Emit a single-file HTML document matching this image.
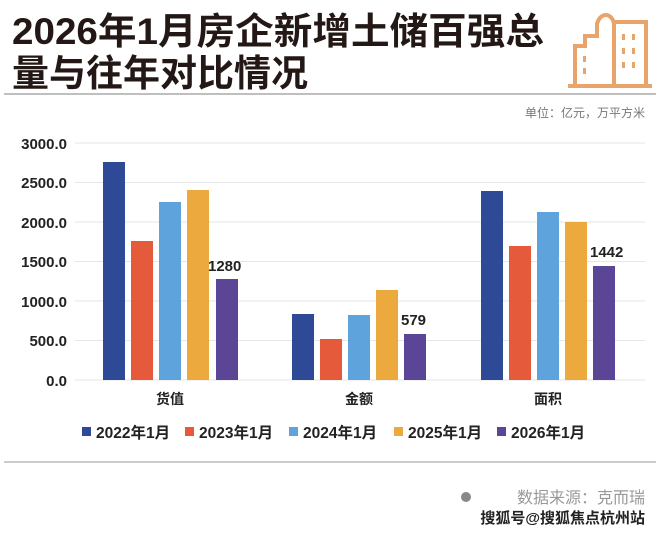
<!DOCTYPE html>
<html><head><meta charset="utf-8"><style>
body{margin:0;background:#fff;}
svg{display:block;font-family:"Liberation Sans","Noto Sans CJK SC",sans-serif;}
</style></head><body>
<svg width="660" height="533" viewBox="0 0 660 533">
<rect width="660" height="533" fill="#fff"/>
<text x="12" y="44" font-size="37" font-weight="bold" fill="#231815" textLength="532" lengthAdjust="spacingAndGlyphs">2026年1月房企新增土储百强总</text>
<text x="12" y="86" font-size="37" font-weight="bold" fill="#231815">量与往年对比情况</text>
<g fill="none" stroke="#e8a46a" stroke-width="4">
<path d="M575 86 V46 H585 V36 H597 V24 C600 12 612 12 614 24 V44"/>
<rect x="614" y="22" width="32" height="64"/>
<line x1="568" y1="86" x2="652" y2="86"/>
</g>
<g fill="#e8a46a"><rect x="622" y="34" width="3" height="6"/><rect x="632" y="34" width="3" height="6"/><rect x="622" y="48" width="3" height="6"/><rect x="632" y="48" width="3" height="6"/><rect x="622" y="62" width="3" height="6"/><rect x="632" y="62" width="3" height="6"/><rect x="583" y="56" width="3" height="6"/><rect x="583" y="68" width="3" height="6"/></g>
<line x1="4" y1="94" x2="656" y2="94" stroke="#aaa" stroke-width="1.5"/>
<text x="645" y="117" font-size="12" fill="#777" text-anchor="end">单位：亿元，万平方米</text>
<g stroke="#e6e6e6" stroke-width="1">
<line x1="75" y1="143" x2="645" y2="143"/><line x1="75" y1="182.5" x2="645" y2="182.5"/><line x1="75" y1="222" x2="645" y2="222"/><line x1="75" y1="261.5" x2="645" y2="261.5"/><line x1="75" y1="301" x2="645" y2="301"/><line x1="75" y1="340.5" x2="645" y2="340.5"/><line x1="75" y1="380" x2="645" y2="380"/>
</g>
<g font-size="15" font-weight="bold" fill="#222" text-anchor="end">
<text x="67" y="149">3000.0</text><text x="67" y="188">2500.0</text><text x="67" y="228">2000.0</text><text x="67" y="267">1500.0</text><text x="67" y="307">1000.0</text><text x="67" y="346">500.0</text><text x="67" y="386">0.0</text>
</g>
<g>
<rect x="103" y="162" width="22" height="218" fill="#2e4a96"/>
<rect x="131" y="241" width="22" height="139" fill="#e45a3a"/>
<rect x="159" y="202" width="22" height="178" fill="#5fa3dc"/>
<rect x="187" y="190" width="22" height="190" fill="#eba93e"/>
<rect x="216" y="279" width="22" height="101" fill="#5b4596"/>
<rect x="292" y="314" width="22" height="66" fill="#2e4a96"/>
<rect x="320" y="339" width="22" height="41" fill="#e45a3a"/>
<rect x="348" y="315" width="22" height="65" fill="#5fa3dc"/>
<rect x="376" y="290" width="22" height="90" fill="#eba93e"/>
<rect x="404" y="334" width="22" height="46" fill="#5b4596"/>
<rect x="481" y="191" width="22" height="189" fill="#2e4a96"/>
<rect x="509" y="246" width="22" height="134" fill="#e45a3a"/>
<rect x="537" y="212" width="22" height="168" fill="#5fa3dc"/>
<rect x="565" y="222" width="22" height="158" fill="#eba93e"/>
<rect x="593" y="266" width="22" height="114" fill="#5b4596"/>
</g>
<g font-size="15" font-weight="bold" fill="#222">
<text x="208" y="271">1280</text><text x="401" y="325">579</text><text x="590" y="257">1442</text>
</g>
<g font-size="14" font-weight="bold" fill="#222" text-anchor="middle">
<text x="170" y="404">货值</text><text x="359" y="404">金额</text><text x="548" y="404">面积</text>
</g>
<g font-size="15.5" font-weight="bold" fill="#222">
<rect x="82" y="427" width="9" height="9" fill="#2e4a96"/><text x="96" y="438">2022年1月</text>
<rect x="185" y="427" width="9" height="9" fill="#e45a3a"/><text x="199" y="438">2023年1月</text>
<rect x="289" y="427" width="9" height="9" fill="#5fa3dc"/><text x="303" y="438">2024年1月</text>
<rect x="394" y="427" width="9" height="9" fill="#eba93e"/><text x="408" y="438">2025年1月</text>
<rect x="497" y="427" width="9" height="9" fill="#5b4596"/><text x="511" y="438">2026年1月</text>
</g>
<line x1="4" y1="462" x2="656" y2="462" stroke="#bbb" stroke-width="1.5"/>
<circle cx="466" cy="497" r="5" fill="#888"/>
<text x="645" y="503" font-size="16" fill="#999" text-anchor="end">数据来源：克而瑞</text>
<text x="645" y="523" font-size="15" font-weight="bold" fill="#222" text-anchor="end">搜狐号@搜狐焦点杭州站</text>
</svg>
</body></html>
